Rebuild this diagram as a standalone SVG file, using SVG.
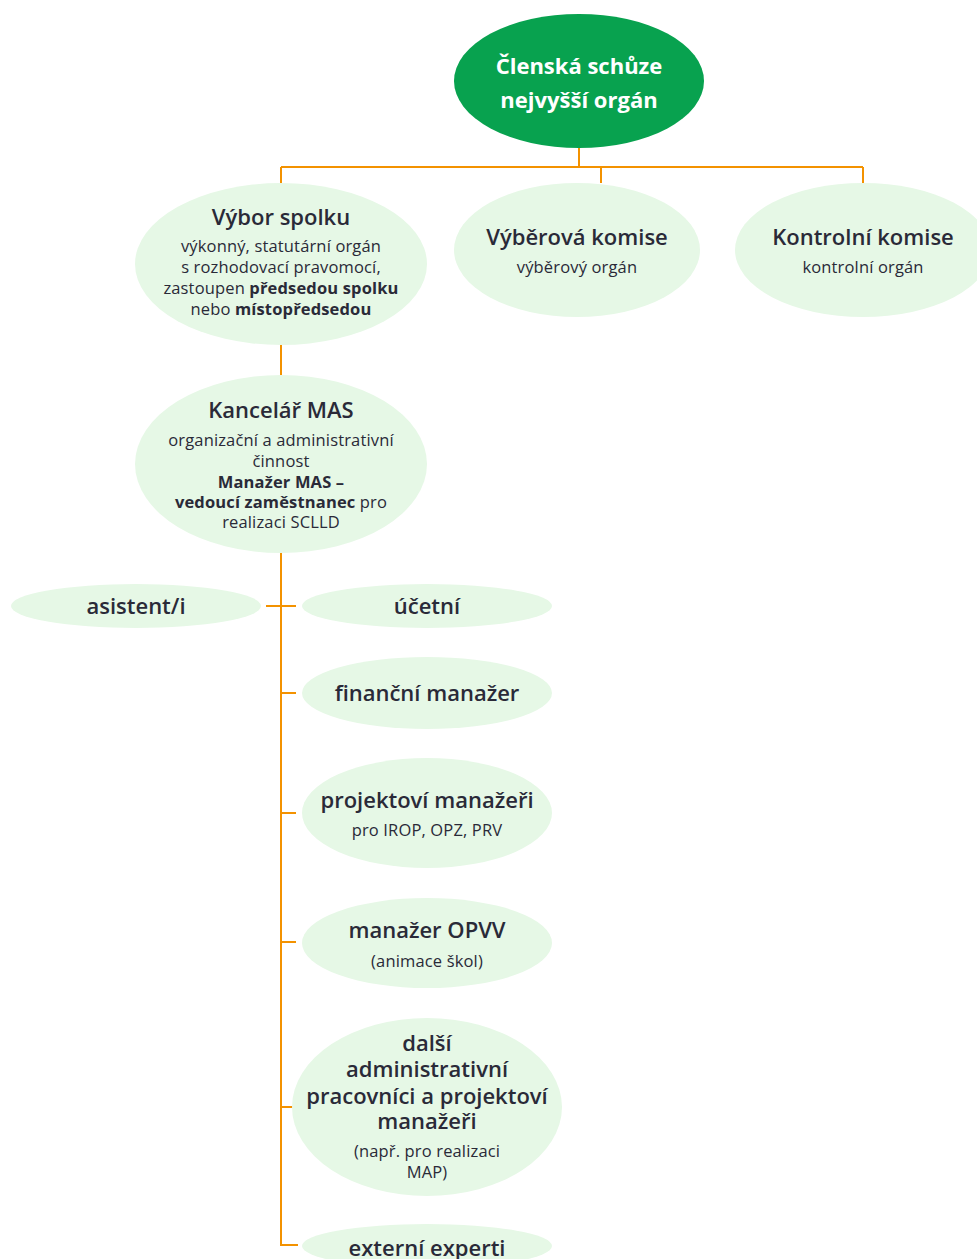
<svg xmlns="http://www.w3.org/2000/svg" width="977" height="1259" viewBox="0 0 977 1259">
<style>
.n{fill:#e6f8e6}
.t{font-family:"Open Sans",Lato,sans-serif;fill:#2a2a38;text-anchor:middle}
.h{font-size:22px;font-weight:600}
.s{font-size:16.5px;letter-spacing:0.15px}
.b{font-weight:bold}
.w{fill:#fff;font-weight:bold}
.c{stroke:#f39200;stroke-width:2;fill:none}
</style>
<rect width="977" height="1259" fill="#ffffff"/>
<g id="connectors" class="c">
<path d="M579 148V167M281 167H863M281 167V183M601 167V183M863 167V183"/>
<path d="M281 345V375M281 553V1245H298"/>
<path d="M266 606H296M281 693H296M281 813H296M281 942H296M281 1107H296"/>
</g>
<g id="clenska">
<ellipse cx="579" cy="81" rx="125" ry="67" fill="#08a24f"/>
<text class="t h w" x="579" y="74">Členská schůze</text>
<text class="t h w" x="579" y="108">nejvyšší orgán</text>
</g>
<g id="vybor">
<ellipse class="n" cx="281" cy="264" rx="146" ry="81"/>
<text class="t h" x="281" y="225">Výbor spolku</text>
<text class="t s" x="281" y="252">výkonný, statutární orgán</text>
<text class="t s" x="281" y="273">s rozhodovací pravomocí,</text>
<text class="t s" x="281" y="294">zastoupen <tspan class="b">předsedou spolku</tspan></text>
<text class="t s" x="281" y="315">nebo <tspan class="b">místopředsedou</tspan></text>
</g>
<g id="vyberova">
<ellipse class="n" cx="577" cy="250" rx="123" ry="67"/>
<text class="t h" x="577" y="245">Výběrová komise</text>
<text class="t s" x="577" y="273">výběrový orgán</text>
</g>
<g id="kontrolni">
<ellipse class="n" cx="863" cy="250" rx="128" ry="67"/>
<text class="t h" x="863" y="245">Kontrolní komise</text>
<text class="t s" x="863" y="273">kontrolní orgán</text>
</g>
<g id="kancelar">
<ellipse class="n" cx="281" cy="464" rx="146" ry="89"/>
<text class="t h" x="281" y="418">Kancelář MAS</text>
<text class="t s" x="281" y="446">organizační a administrativní</text>
<text class="t s" x="281" y="467">činnost</text>
<text class="t s b" x="281" y="488">Manažer MAS –</text>
<text class="t s" x="281" y="508"><tspan class="b">vedoucí zaměstnanec</tspan> pro</text>
<text class="t s" x="281" y="528">realizaci SCLLD</text>
</g>
<g id="asistent">
<ellipse class="n" cx="136" cy="606" rx="125" ry="22"/>
<text class="t h" x="136" y="614">asistent/i</text>
</g>
<g id="ucetni">
<ellipse class="n" cx="427" cy="606" rx="125" ry="22"/>
<text class="t h" x="427" y="614">účetní</text>
</g>
<g id="financni">
<ellipse class="n" cx="427" cy="693" rx="125" ry="36"/>
<text class="t h" x="427" y="701">finanční manažer</text>
</g>
<g id="projektovi">
<ellipse class="n" cx="427" cy="813" rx="125" ry="55"/>
<text class="t h" x="427" y="808">projektoví manažeři</text>
<text class="t s" x="427" y="836">pro IROP, OPZ, PRV</text>
</g>
<g id="opvv">
<ellipse class="n" cx="427" cy="943" rx="125" ry="45"/>
<text class="t h" x="427" y="938">manažer OPVV</text>
<text class="t s" x="427" y="967">(animace škol)</text>
</g>
<g id="dalsi">
<ellipse class="n" cx="427" cy="1107" rx="135" ry="89"/>
<text class="t h" x="427" y="1051">další</text>
<text class="t h" x="427" y="1077">administrativní</text>
<text class="t h" x="427" y="1104">pracovníci a projektoví</text>
<text class="t h" x="427" y="1129">manažeři</text>
<text class="t s" x="427" y="1157">(např. pro realizaci</text>
<text class="t s" x="427" y="1178">MAP)</text>
</g>
<g id="externi">
<ellipse class="n" cx="427" cy="1246" rx="125" ry="22"/>
<text class="t h" x="427" y="1256">externí experti</text>
</g>
</svg>
